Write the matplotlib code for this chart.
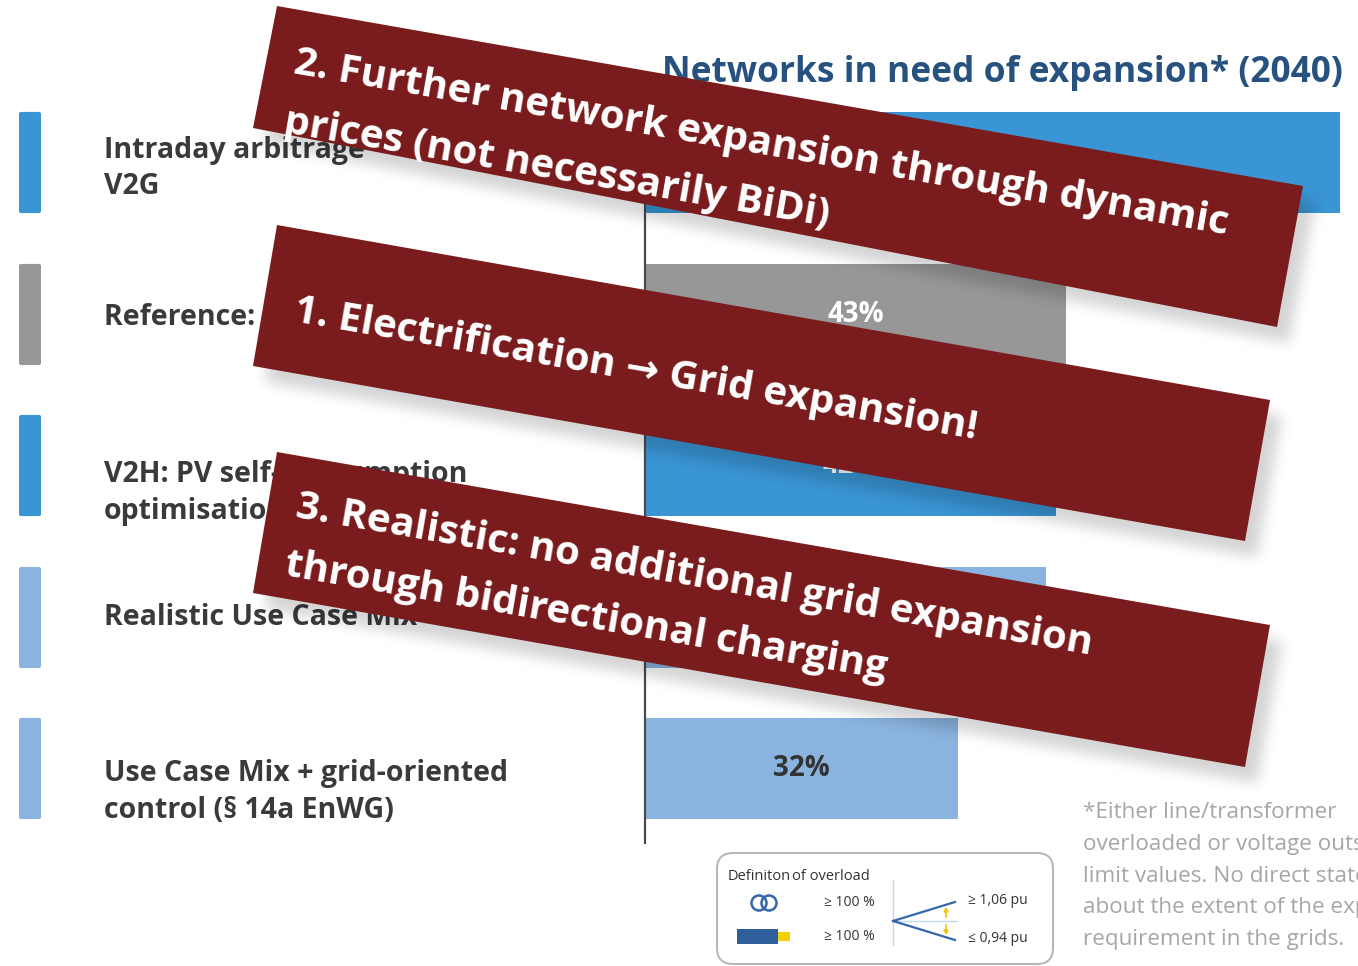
#encoding=utf-8

import numpy as np
import matplotlib
matplotlib.use("Agg")
import matplotlib.pyplot as plt
from matplotlib.path import Path
from matplotlib.patches import Polygon, FancyBboxPatch, Circle, Rectangle
from matplotlib.transforms import blended_transform_factory

plt.rcParams["font.family"] = ["Open Sans", "DejaVu Sans"]

# data
title = "Networks in need of expansion* (2040)"
scenarios = ["Intraday arbitrage\nV2G",
             "Reference: 100% unidirectional",
             "V2H: PV self-consumption\noptimisation",
             "Realistic Use Case Mix",
             "Use Case Mix + grid-oriented\ncontrol (§ 14a EnWG)"]
share = [71, 43, 42, 41, 32]
bar_colors = ["#3A95D5", "#979797", "#3A95D5", "#8AB4DF", "#8AB4DF"]
value_colors = ["white", "white", "white", "#333333", "#333333"]

banner_lines = [["2. Further network expansion through dynamic",
                 "prices (not necessarily BiDi)"],
                ["1. Electrification \u2192 Grid expansion!"],
                ["3. Realistic: no additional grid expansion",
                 "through bidirectional charging"]]
footnote = ["*Either line/transformer",
            "overloaded or voltage outside",
            "limit values. No direct statement",
            "about the extent of the expansion",
            "requirement in the grids."]
legend_title = ["Definiton", "of overload"]
legend_limits = ["\u2265 100 %", "\u2265 100 %", "\u2265 1,06 pu", "\u2264 0,94 pu"]

# layout (pixels)
W, H = 1358, 966
label_shift = [0.04, 0.02, 0.18, 0.0, 0.155]
banner_corners = [[(277, 6), (1303, 186), (1277, 327), (253, 128)],
                  [(277, 225), (1270, 400), (1245, 541), (253, 366)],
                  [(277, 452), (1270, 625), (1245, 767), (253, 593)]]
banner_starts = [[(293, 73), (283, 132)],
                 [(293, 321)],
                 [(295, 517), (284, 575)]]


def blur(a, r):
    n0, n1 = a.shape
    p = np.pad(a, [(r + 1, r), (0, 0)])
    c = np.cumsum(p, axis=0)
    a = (c[2 * r + 1:2 * r + 1 + n0] - c[:n0]) / (2 * r + 1)
    p = np.pad(a, [(0, 0), (r + 1, r)])
    c = np.cumsum(p, axis=1)
    return (c[:, 2 * r + 1:2 * r + 1 + n1] - c[:, :n1]) / (2 * r + 1)


def main():
    fig = plt.figure(figsize=(W / 100, H / 100), dpi=100)
    fig.patch.set_facecolor("white")
    y = np.arange(len(share))
    ax_rect = [645 / W, (H - 843) / H, 705 / W, 748 / H]

    # colour markers on the left
    mk = fig.add_axes([19 / W, ax_rect[1], 22 / W, ax_rect[3]])
    mk.barh(y, [1] * len(y), height=0.64, color=bar_colors, edgecolor=bar_colors,
            linewidth=3, joinstyle="round")
    mk.set_xlim(-0.08, 1.08)
    mk.set_ylim(4.49, -0.446)
    mk.axis("off")

    # bars
    ax = fig.add_axes(ax_rect)
    ax.barh(y, share, height=0.667, color=bar_colors)
    ax.set_xlim(0, 72)
    ax.set_ylim(4.49, -0.446)
    for s in ["top", "right", "bottom"]:
        ax.spines[s].set_visible(False)
    ax.spines["left"].set_color("#4a4a4a")
    ax.spines["left"].set_linewidth(1.6)
    ax.set_xticks([])
    ax.set_yticks([])
    for i, v in enumerate(share):
        ax.text(v / 2, i, f"{v}%", ha="center", va="center", fontsize=20,
                fontweight="bold", color=value_colors[i])
    tr = blended_transform_factory(fig.transFigure, ax.transData)
    for i, lab in enumerate(scenarios):
        ax.text(104 / W, i + label_shift[i], lab, transform=tr, ha="left", va="center",
                fontsize=20.5, fontweight="bold", color="#3a3a3a", linespacing=1.34)
    ax.text(1343 / W, 1 - 82 / H, title, transform=fig.transFigure, ha="right",
            va="baseline", fontsize=25.5, fontweight="bold", color="#27527F")

    # overlay in pixel coordinates
    ov = fig.add_axes([0, 0, 1, 1])
    ov.set_zorder(5)
    ov.patch.set_visible(False)

    # soft shadows of the banners
    yy, xx = np.mgrid[0:H, 0:W]
    pts = np.column_stack([xx.ravel() + 0.5, yy.ravel() + 0.5])
    shade = np.zeros((H, W))
    for poly in banner_corners:
        p = np.array(poly, float) + [12, 16]
        shade = np.maximum(shade, Path(p).contains_points(pts).reshape(H, W))
    for _ in range(3):
        shade = blur(shade, 6)
    rgba = np.zeros((H, W, 4))
    rgba[..., 3] = shade * 0.17
    ov.imshow(rgba, extent=(0, W, H, 0), aspect="auto", zorder=1,
              interpolation="bilinear")

    # banners
    for poly, starts, lines in zip(banner_corners, banner_starts, banner_lines):
        ov.add_patch(Polygon(poly, closed=True, facecolor="#7A1C1D",
                             edgecolor="none", zorder=2))
        for (bx, by), line in zip(starts, lines):
            ov.text(bx, by, line, rotation=-9.8, rotation_mode="anchor",
                    ha="left", va="baseline", fontsize=29, fontweight="bold",
                    color="white", zorder=3)

    # footnote (runs past the right edge, as in the original slide)
    for k, line in enumerate(footnote):
        ov.text(1083, 813 + k * 31.5, line, ha="left", va="center",
                fontsize=16.2, color="#a6a6a6")

    # definition of overload box
    ov.add_patch(FancyBboxPatch((717, 853), 336, 111,
                                boxstyle="round,pad=0,rounding_size=16",
                                facecolor="white", edgecolor="#b5b5b5", lw=1.4))
    ov.text(728, 876, legend_title[0], ha="left", va="center", fontsize=10.5,
            color="#333333")
    ov.text(792, 877, legend_title[1], ha="left", va="center", fontsize=10.5,
            color="#333333")
    ov.add_patch(Circle((759, 903), 7.5, fill=False, edgecolor="#3567A8", lw=1.8))
    ov.add_patch(Circle((769, 903), 7.5, fill=False, edgecolor="#3567A8", lw=1.8))
    ov.add_patch(Rectangle((737, 929), 41, 15, facecolor="#2F5F9A", edgecolor="none"))
    ov.add_patch(Rectangle((778, 932), 12, 9, facecolor="#F2D000", edgecolor="none"))
    ov.text(824, 902, legend_limits[0], ha="left", va="center", fontsize=10, color="#333333")
    ov.text(824, 937, legend_limits[1], ha="left", va="center", fontsize=10, color="#333333")
    ov.plot([893, 893], [880, 945], color="#C5D5EA", lw=1)
    ov.plot([893, 957], [921, 921], color="#C5D5EA", lw=1)
    ov.plot([893, 955], [921, 902], color="#3567A8", lw=1.6)
    ov.plot([893, 955], [921, 940], color="#3567A8", lw=1.6)
    ov.annotate("", xy=(946, 904), xytext=(946, 920),
                arrowprops=dict(arrowstyle="-|>", color="#F2C200", lw=1.2, mutation_scale=6))
    ov.annotate("", xy=(946, 938), xytext=(946, 922),
                arrowprops=dict(arrowstyle="-|>", color="#F2C200", lw=1.2, mutation_scale=6))
    ov.text(968, 901, legend_limits[2], ha="left", va="center", fontsize=10, color="#333333")
    ov.text(968, 938, legend_limits[3], ha="left", va="center", fontsize=10, color="#333333")

    ov.set_xlim(0, W)
    ov.set_ylim(H, 0)
    ov.axis("off")

    fig.savefig("out.png", dpi=100)


if __name__ == '__main__':
    main()
